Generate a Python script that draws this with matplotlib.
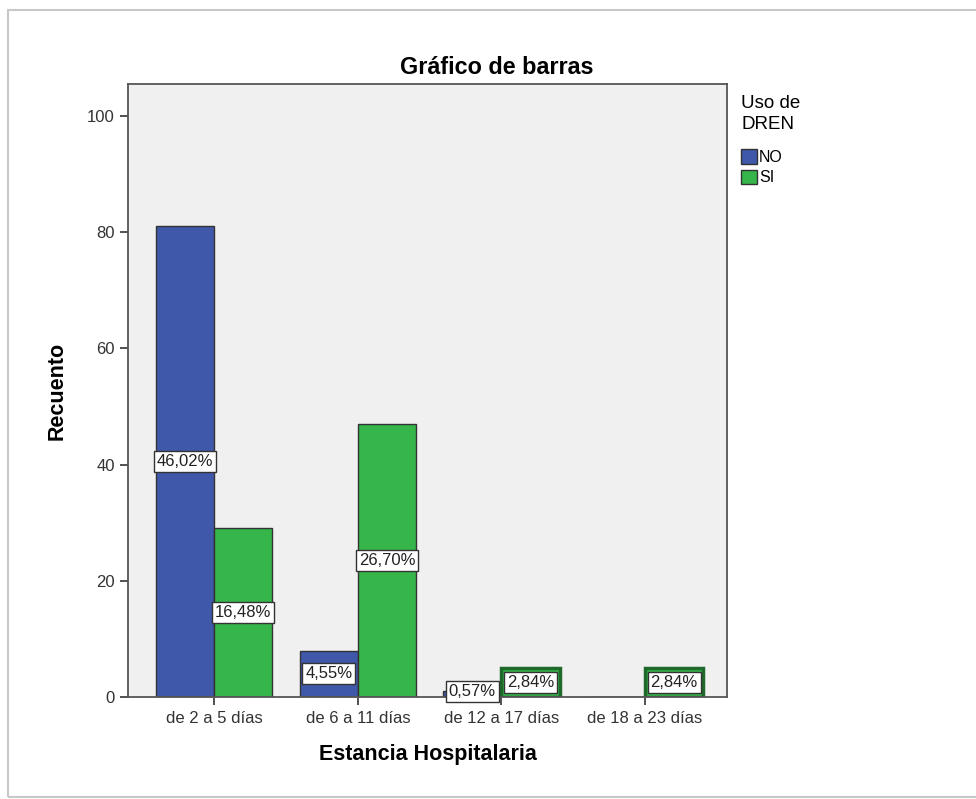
import matplotlib.pyplot as plt
import matplotlib.patches as mpatches
import numpy as np

plt.rcParams['font.family'] = ['Liberation Sans', 'DejaVu Sans']

# recuento por estancia y uso de dren
categorias = ["de 2 a 5 días", "de 6 a 11 días", "de 12 a 17 días", "de 18 a 23 días"]
no_dren = [81, 8, 1, 0]
si_dren = [29, 47, 5, 5]
total = sum(no_dren) + sum(si_dren)

azul = "#3F58AA"
verde = "#36B54A"

fig = plt.figure(figsize=(9.76, 7.99), dpi=100)
# marco exterior
fig.patches.append(mpatches.Rectangle((8 / 976, 1 - 797 / 799), 1.2, 787 / 799,
                                      transform=fig.transFigure, fill=False,
                                      edgecolor="#C8C8C8", linewidth=1.5))

ax = fig.add_axes([128 / 976, 1 - 697 / 799, 599 / 976, 613 / 799])
ax.set_facecolor("#F0F0F0")

x = np.arange(len(categorias))
w = 0.405
bars_no = ax.bar(x - w / 2, no_dren, w, color=azul, edgecolor="#333333", linewidth=1)
bars_si = ax.bar(x + w / 2, si_dren, w, color=verde, edgecolor="#333333", linewidth=1)

# barras bajas con borde grueso
for b, v in zip(bars_si, si_dren):
    if v < 6:
        b.set_edgecolor("#1F6A2A")
        b.set_linewidth(2.5)

for bars, vals in [(bars_no, no_dren), (bars_si, si_dren)]:
    for b, v in zip(bars, vals):
        if v == 0:
            continue
        pct = f"{100 * v / total:.2f}%".replace(".", ",")
        ax.text(b.get_x() + b.get_width() / 2, max(v / 2, 1.0), pct,
                ha="center", va="center", fontsize=12, color="#222222",
                bbox=dict(boxstyle="square,pad=0.18", facecolor="white",
                          edgecolor="#333333", linewidth=1))

ax.set_xlim(-0.6, 3.57)
ax.set_ylim(0, 105.5)
ax.set_yticks([0, 20, 40, 60, 80, 100])
ax.set_xticks(x)
ax.set_xticklabels(categorias)
ax.tick_params(axis="both", labelsize=12, colors="#333333", length=6, width=1.2)
ax.tick_params(axis="x", pad=4)
for s in ax.spines.values():
    s.set_color("#555555")
    s.set_linewidth(1.3)

ax.set_xlabel("Estancia Hospitalaria", fontsize=15.5, fontweight="bold", labelpad=13)
ax.set_ylabel("Recuento", fontsize=15.5, fontweight="bold", labelpad=14)
fig.text(497 / 976, 1 - 67 / 799, "Gráfico de barras", ha="center", va="center",
         fontsize=16.8, fontweight="bold")

handles = [mpatches.Patch(facecolor=azul, edgecolor="#333333", label="NO"),
           mpatches.Patch(facecolor=verde, edgecolor="#333333", label="SI")]
leg = ax.legend(handles=handles, title="Uso de\nDREN", loc="upper left",
                bbox_to_anchor=(1.0, 1.005), frameon=False, fontsize=11.5,
                title_fontsize=13.5, handlelength=1.0, handleheight=1.0,
                handletextpad=0.1, labelspacing=0.3, borderaxespad=0.5)
leg._legend_box.align = "left"
leg._legend_box.sep = 12
leg.get_title().set_linespacing(1.25)

fig.savefig("out.png", dpi=100)
